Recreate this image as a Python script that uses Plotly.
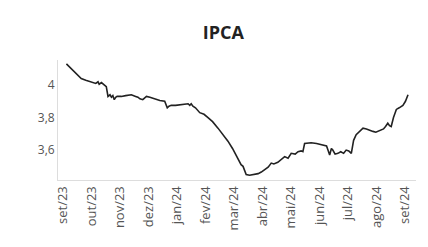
import plotly.graph_objects as go

month_labels = ["set/23", "out/23", "nov/23", "dez/23", "jan/24", "fev/24", "mar/24",
                "abr/24", "mai/24", "jun/24", "jul/24", "ago/24", "set/24"]

# position along the time axis, in months since set/23
t_pos = [0.12, 0.3, 0.5, 0.64, 0.8, 1.0, 1.15, 1.23, 1.27, 1.35, 1.46, 1.52, 1.58, 1.65, 1.7, 1.75,
         1.8, 1.85, 1.9, 2.05, 2.2, 2.4, 2.55, 2.63, 2.7, 2.8, 2.86, 2.93, 3.05, 3.22, 3.4,
         3.57, 3.62, 3.66, 3.72, 3.8, 3.95, 4.15, 4.3, 4.39, 4.45, 4.5, 4.56, 4.65, 4.8,
         4.95, 5.09, 5.25, 5.44, 5.6, 5.79, 5.95, 6.14, 6.25, 6.32, 6.38, 6.43, 6.55, 6.73,
         6.85, 6.96, 7.1, 7.2, 7.31, 7.4, 7.54, 7.65, 7.78, 7.9, 8.01, 8.15, 8.25, 8.36,
         8.42, 8.48, 8.6, 8.71, 8.9, 9.05, 9.18, 9.25, 9.3, 9.36, 9.42, 9.47, 9.55, 9.65,
         9.75, 9.85, 9.94, 10.03, 10.12, 10.2, 10.29, 10.4, 10.53, 10.65, 10.78, 10.88,
         10.98, 11.12, 11.25, 11.32, 11.4, 11.46, 11.52, 11.6, 11.7, 11.8, 11.93, 12.02, 12.11]

ipca = [4.13, 4.10, 4.065, 4.04, 4.03, 4.02, 4.01, 4.02, 4.005, 4.015, 4.00, 3.99, 3.93, 3.94,
        3.925, 3.935, 3.91, 3.925, 3.93, 3.93, 3.935, 3.94, 3.93, 3.925, 3.915, 3.91, 3.92,
        3.93, 3.925, 3.915, 3.905, 3.90, 3.88, 3.86, 3.87, 3.875, 3.875, 3.88, 3.885, 3.885,
        3.875, 3.885, 3.87, 3.86, 3.83, 3.82, 3.80, 3.775, 3.735, 3.70, 3.655, 3.61, 3.54,
        3.51, 3.50, 3.47, 3.45, 3.445, 3.45, 3.455, 3.465, 3.48, 3.495, 3.52, 3.515, 3.525,
        3.54, 3.56, 3.55, 3.58, 3.575, 3.59, 3.595, 3.59, 3.64, 3.645, 3.645, 3.64, 3.635,
        3.63, 3.625, 3.60, 3.57, 3.61, 3.60, 3.575, 3.58, 3.59, 3.58, 3.60, 3.595, 3.58,
        3.66, 3.695, 3.715, 3.735, 3.73, 3.72, 3.715, 3.71, 3.72, 3.73, 3.745, 3.765, 3.75,
        3.745, 3.80, 3.85, 3.86, 3.875, 3.90, 3.94]

fig = go.Figure()
fig.add_trace(go.Scatter(x=t_pos, y=ipca, mode="lines",
                         line=dict(color="#222222", width=1.6), showlegend=False))

fig.update_layout(
    width=428, height=247,
    margin=dict(l=50, r=20, t=52, b=75),
    paper_bgcolor="white", plot_bgcolor="white",
    separators=", ",
    font=dict(family="Open Sans", color="#555555", size=12),
    title=dict(text="<b>IPCA</b>", x=0.503, xref="container", y=0.90, yref="container",
               xanchor="center", yanchor="middle",
               font=dict(family="Open Sans", size=18, color="#222222")),
)
fig.update_xaxes(range=[-0.175, 12.39], tickvals=list(range(len(month_labels))),
                 ticktext=month_labels, tickangle=-90, showgrid=False, zeroline=False,
                 showline=True, linecolor="#dddddd", linewidth=1, ticks="",
                 tickfont=dict(size=13, color="#555555"))
fig.update_yaxes(range=[3.416, 4.154], tickvals=[3.6, 3.8, 4.0], ticktext=["3,6", "3,8", "4"],
                 showgrid=False, zeroline=False, showline=True, linecolor="#dddddd",
                 linewidth=1, ticks="", tickfont=dict(size=12, color="#555555"))

fig.write_html("out.html")
